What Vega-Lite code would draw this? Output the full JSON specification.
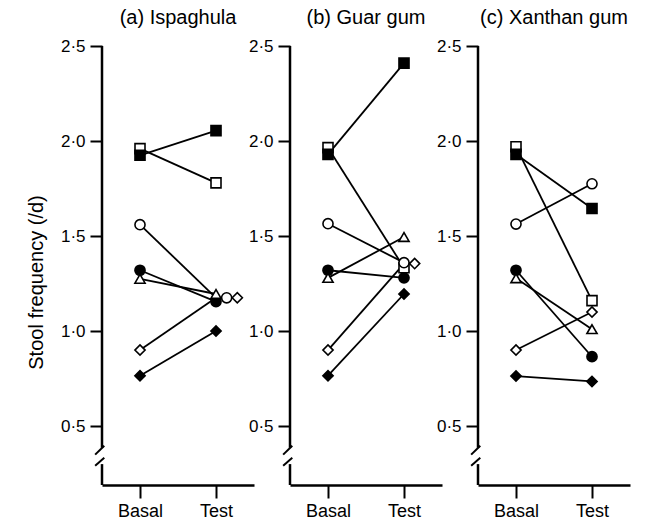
{
  "$schema": "https://vega.github.io/schema/vega-lite/v6.json",
  "background": "white",
  "padding": {"left": 26, "top": 8, "right": 1, "bottom": 2},
  "config": {
    "font": "Liberation Sans",
    "view": {"stroke": null},
    "title": {"font": "Liberation Sans", "fontSize": 20, "fontWeight": "normal", "color": "black", "anchor": "middle", "offset": 9},
    "axis": {"labelFont": "Liberation Sans", "titleFont": "Liberation Sans", "labelColor": "black", "titleColor": "black", "tickColor": "black", "domainColor": "black", "grid": false}
  },
  "datasets": {
    "stool": [
      {"panel": "a", "subject": "S1", "phase": "Basal", "value": 1.96, "slot": 0},
      {"panel": "a", "subject": "S2", "phase": "Basal", "value": 1.925, "slot": 0},
      {"panel": "a", "subject": "S3", "phase": "Basal", "value": 1.56, "slot": 0},
      {"panel": "a", "subject": "S4", "phase": "Basal", "value": 1.32, "slot": 0},
      {"panel": "a", "subject": "S5", "phase": "Basal", "value": 1.275, "slot": 0},
      {"panel": "a", "subject": "S6", "phase": "Basal", "value": 0.9, "slot": 0},
      {"panel": "a", "subject": "S7", "phase": "Basal", "value": 0.765, "slot": 0},
      {"panel": "a", "subject": "S1", "phase": "Test", "value": 1.78, "slot": 0},
      {"panel": "a", "subject": "S2", "phase": "Test", "value": 2.055, "slot": 0},
      {"panel": "a", "subject": "S3", "phase": "Test", "value": 1.175, "slot": 1},
      {"panel": "a", "subject": "S4", "phase": "Test", "value": 1.155, "slot": 0},
      {"panel": "a", "subject": "S5", "phase": "Test", "value": 1.195, "slot": 0},
      {"panel": "a", "subject": "S6", "phase": "Test", "value": 1.175, "slot": 2},
      {"panel": "a", "subject": "S7", "phase": "Test", "value": 1.0, "slot": 0},
      {"panel": "b", "subject": "S1", "phase": "Basal", "value": 1.965, "slot": 0},
      {"panel": "b", "subject": "S2", "phase": "Basal", "value": 1.93, "slot": 0},
      {"panel": "b", "subject": "S3", "phase": "Basal", "value": 1.565, "slot": 0},
      {"panel": "b", "subject": "S4", "phase": "Basal", "value": 1.32, "slot": 0},
      {"panel": "b", "subject": "S5", "phase": "Basal", "value": 1.28, "slot": 0},
      {"panel": "b", "subject": "S6", "phase": "Basal", "value": 0.9, "slot": 0},
      {"panel": "b", "subject": "S7", "phase": "Basal", "value": 0.765, "slot": 0},
      {"panel": "b", "subject": "S1", "phase": "Test", "value": 1.333, "slot": 0},
      {"panel": "b", "subject": "S2", "phase": "Test", "value": 2.41, "slot": 0},
      {"panel": "b", "subject": "S3", "phase": "Test", "value": 1.36, "slot": 0},
      {"panel": "b", "subject": "S4", "phase": "Test", "value": 1.28, "slot": 0},
      {"panel": "b", "subject": "S5", "phase": "Test", "value": 1.495, "slot": 0},
      {"panel": "b", "subject": "S6", "phase": "Test", "value": 1.355, "slot": 1},
      {"panel": "b", "subject": "S7", "phase": "Test", "value": 1.195, "slot": 0},
      {"panel": "c", "subject": "S1", "phase": "Basal", "value": 1.97, "slot": 0},
      {"panel": "c", "subject": "S2", "phase": "Basal", "value": 1.93, "slot": 0},
      {"panel": "c", "subject": "S3", "phase": "Basal", "value": 1.563, "slot": 0},
      {"panel": "c", "subject": "S4", "phase": "Basal", "value": 1.32, "slot": 0},
      {"panel": "c", "subject": "S5", "phase": "Basal", "value": 1.278, "slot": 0},
      {"panel": "c", "subject": "S6", "phase": "Basal", "value": 0.9, "slot": 0},
      {"panel": "c", "subject": "S7", "phase": "Basal", "value": 0.763, "slot": 0},
      {"panel": "c", "subject": "S1", "phase": "Test", "value": 1.16, "slot": 0},
      {"panel": "c", "subject": "S2", "phase": "Test", "value": 1.645, "slot": 0},
      {"panel": "c", "subject": "S3", "phase": "Test", "value": 1.775, "slot": 0},
      {"panel": "c", "subject": "S4", "phase": "Test", "value": 0.865, "slot": 0},
      {"panel": "c", "subject": "S5", "phase": "Test", "value": 1.01, "slot": 0},
      {"panel": "c", "subject": "S6", "phase": "Test", "value": 1.1, "slot": 0},
      {"panel": "c", "subject": "S7", "phase": "Test", "value": 0.735, "slot": 0}
    ]
  },
  "data": {"name": "stool"},
  "transform": [
    {"calculate": "datum.phase === 'Basal' ? 1 : 2", "as": "x"},
    {"calculate": "datum.x + datum.slot * 0.14", "as": "xp"}
  ],
  "spacing": 36,
  "bounds": "flush",
  "hconcat": [
    {
      "width": 152, "height": 439,
      "title": "(a)  Ispaghula",
      "transform": [{"filter": "datum.panel === 'a'"}],
      "encoding": {
        "y": {"type": "quantitative", "scale": {"domain": [0.19, 2.5], "nice": false, "zero": false},
          "axis": {"title": "Stool frequency (/d)", "titleFontSize": 20, "titleFontWeight": "normal", "titlePadding": 14, "titleY": 236, "domain": false, "values": [0.5, 1, 1.5, 2, 2.5], "tickSize": 12, "tickWidth": 2, "labelFontSize": 17, "labelPadding": 5, "labelExpr": "replace(format(datum.value, '.1f'), '.', '·')"}}
      },
      "layer": [
        {"mark": {"type": "line", "color": "black", "strokeWidth": 1.8},
          "encoding": {"x": {"field": "x", "type": "quantitative", "scale": {"domain": [0.5, 2.5], "nice": false, "zero": false},
            "axis": {"title": null, "values": [1, 2], "domainWidth": 2.5, "tickSize": 13, "tickWidth": 2, "labelFontSize": 18, "labelPadding": 4, "labelExpr": "datum.value == 1 ? 'Basal' : 'Test'"}},
            "y": {"field": "value"}, "detail": {"field": "subject"}, "order": {"field": "x"}}},
        {"mark": {"type": "point", "filled": false, "stroke": "black", "strokeWidth": 1.6, "opacity": 1},
          "encoding": {"x": {"field": "xp", "type": "quantitative"}, "y": {"field": "value"},
            "shape": {"field": "subject", "type": "nominal", "legend": null, "scale": {"domain": ["S1","S2","S3","S4","S5","S6","S7"], "range": ["square","square","circle","circle","triangle-up","M-1,0L0,-1L1,0L0,1Z","M-1,0L0,-1L1,0L0,1Z"]}},
            "fill": {"field": "subject", "type": "nominal", "legend": null, "scale": {"domain": ["S1","S2","S3","S4","S5","S6","S7"], "range": ["white","black","white","black","white","white","black"]}},
            "size": {"field": "subject", "type": "nominal", "legend": null, "scale": {"domain": ["S1","S2","S3","S4","S5","S6","S7"], "range": [100,105,100,110,120,165,165]}}}},
        {"data": {"values": [{}]}, "mark": {"type": "rule", "color": "black", "strokeWidth": 2.5},
          "encoding": {"x": {"datum": 0.5, "type": "quantitative"}, "y": {"datum": 2.5}, "y2": {"datum": 0.386}}},
        {"data": {"values": [{}]}, "mark": {"type": "rule", "color": "black", "strokeWidth": 2.5},
          "encoding": {"x": {"datum": 0.5, "type": "quantitative"}, "y": {"datum": 0.3}, "y2": {"datum": 0.19}}},
        {"data": {"values": [{}]}, "mark": {"type": "rule", "color": "black", "strokeWidth": 2},
          "encoding": {"x": {"datum": 0.41, "type": "quantitative"}, "x2": {"datum": 0.53}, "y": {"datum": 0.35}, "y2": {"datum": 0.397}}},
        {"data": {"values": [{}]}, "mark": {"type": "rule", "color": "black", "strokeWidth": 2},
          "encoding": {"x": {"datum": 0.41, "type": "quantitative"}, "x2": {"datum": 0.53}, "y": {"datum": 0.291}, "y2": {"datum": 0.333}}}
      ]
    },
    {
      "width": 152, "height": 439,
      "title": "(b)  Guar gum",
      "transform": [{"filter": "datum.panel === 'b'"}],
      "encoding": {
        "y": {"type": "quantitative", "scale": {"domain": [0.19, 2.5], "nice": false, "zero": false},
          "axis": {"title": null, "domain": false, "values": [0.5, 1, 1.5, 2, 2.5], "tickSize": 12, "tickWidth": 2, "labelFontSize": 17, "labelPadding": 5, "labelExpr": "replace(format(datum.value, '.1f'), '.', '·')"}}
      },
      "layer": [
        {"mark": {"type": "line", "color": "black", "strokeWidth": 1.8},
          "encoding": {"x": {"field": "x", "type": "quantitative", "scale": {"domain": [0.5, 2.5], "nice": false, "zero": false},
            "axis": {"title": null, "values": [1, 2], "domainWidth": 2.5, "tickSize": 13, "tickWidth": 2, "labelFontSize": 18, "labelPadding": 4, "labelExpr": "datum.value == 1 ? 'Basal' : 'Test'"}},
            "y": {"field": "value"}, "detail": {"field": "subject"}, "order": {"field": "x"}}},
        {"mark": {"type": "point", "filled": false, "stroke": "black", "strokeWidth": 1.6, "opacity": 1},
          "encoding": {"x": {"field": "xp", "type": "quantitative"}, "y": {"field": "value"},
            "shape": {"field": "subject", "type": "nominal", "legend": null, "scale": {"domain": ["S1","S2","S3","S4","S5","S6","S7"], "range": ["square","square","circle","circle","triangle-up","M-1,0L0,-1L1,0L0,1Z","M-1,0L0,-1L1,0L0,1Z"]}},
            "fill": {"field": "subject", "type": "nominal", "legend": null, "scale": {"domain": ["S1","S2","S3","S4","S5","S6","S7"], "range": ["white","black","white","black","white","white","black"]}},
            "size": {"field": "subject", "type": "nominal", "legend": null, "scale": {"domain": ["S1","S2","S3","S4","S5","S6","S7"], "range": [100,105,100,110,120,165,165]}}}},
        {"data": {"values": [{}]}, "mark": {"type": "rule", "color": "black", "strokeWidth": 2.5},
          "encoding": {"x": {"datum": 0.5, "type": "quantitative"}, "y": {"datum": 2.5}, "y2": {"datum": 0.386}}},
        {"data": {"values": [{}]}, "mark": {"type": "rule", "color": "black", "strokeWidth": 2.5},
          "encoding": {"x": {"datum": 0.5, "type": "quantitative"}, "y": {"datum": 0.3}, "y2": {"datum": 0.19}}},
        {"data": {"values": [{}]}, "mark": {"type": "rule", "color": "black", "strokeWidth": 2},
          "encoding": {"x": {"datum": 0.41, "type": "quantitative"}, "x2": {"datum": 0.53}, "y": {"datum": 0.35}, "y2": {"datum": 0.397}}},
        {"data": {"values": [{}]}, "mark": {"type": "rule", "color": "black", "strokeWidth": 2},
          "encoding": {"x": {"datum": 0.41, "type": "quantitative"}, "x2": {"datum": 0.53}, "y": {"datum": 0.291}, "y2": {"datum": 0.333}}}
      ]
    },
    {
      "width": 152, "height": 439,
      "title": "(c)  Xanthan gum",
      "transform": [{"filter": "datum.panel === 'c'"}],
      "encoding": {
        "y": {"type": "quantitative", "scale": {"domain": [0.19, 2.5], "nice": false, "zero": false},
          "axis": {"title": null, "domain": false, "values": [0.5, 1, 1.5, 2, 2.5], "tickSize": 12, "tickWidth": 2, "labelFontSize": 17, "labelPadding": 5, "labelExpr": "replace(format(datum.value, '.1f'), '.', '·')"}}
      },
      "layer": [
        {"mark": {"type": "line", "color": "black", "strokeWidth": 1.8},
          "encoding": {"x": {"field": "x", "type": "quantitative", "scale": {"domain": [0.5, 2.5], "nice": false, "zero": false},
            "axis": {"title": null, "values": [1, 2], "domainWidth": 2.5, "tickSize": 13, "tickWidth": 2, "labelFontSize": 18, "labelPadding": 4, "labelExpr": "datum.value == 1 ? 'Basal' : 'Test'"}},
            "y": {"field": "value"}, "detail": {"field": "subject"}, "order": {"field": "x"}}},
        {"mark": {"type": "point", "filled": false, "stroke": "black", "strokeWidth": 1.6, "opacity": 1},
          "encoding": {"x": {"field": "xp", "type": "quantitative"}, "y": {"field": "value"},
            "shape": {"field": "subject", "type": "nominal", "legend": null, "scale": {"domain": ["S1","S2","S3","S4","S5","S6","S7"], "range": ["square","square","circle","circle","triangle-up","M-1,0L0,-1L1,0L0,1Z","M-1,0L0,-1L1,0L0,1Z"]}},
            "fill": {"field": "subject", "type": "nominal", "legend": null, "scale": {"domain": ["S1","S2","S3","S4","S5","S6","S7"], "range": ["white","black","white","black","white","white","black"]}},
            "size": {"field": "subject", "type": "nominal", "legend": null, "scale": {"domain": ["S1","S2","S3","S4","S5","S6","S7"], "range": [100,105,100,110,120,165,165]}}}},
        {"data": {"values": [{}]}, "mark": {"type": "rule", "color": "black", "strokeWidth": 2.5},
          "encoding": {"x": {"datum": 0.5, "type": "quantitative"}, "y": {"datum": 2.5}, "y2": {"datum": 0.386}}},
        {"data": {"values": [{}]}, "mark": {"type": "rule", "color": "black", "strokeWidth": 2.5},
          "encoding": {"x": {"datum": 0.5, "type": "quantitative"}, "y": {"datum": 0.3}, "y2": {"datum": 0.19}}},
        {"data": {"values": [{}]}, "mark": {"type": "rule", "color": "black", "strokeWidth": 2},
          "encoding": {"x": {"datum": 0.41, "type": "quantitative"}, "x2": {"datum": 0.53}, "y": {"datum": 0.35}, "y2": {"datum": 0.397}}},
        {"data": {"values": [{}]}, "mark": {"type": "rule", "color": "black", "strokeWidth": 2},
          "encoding": {"x": {"datum": 0.41, "type": "quantitative"}, "x2": {"datum": 0.53}, "y": {"datum": 0.291}, "y2": {"datum": 0.333}}}
      ]
    }
  ]
}
